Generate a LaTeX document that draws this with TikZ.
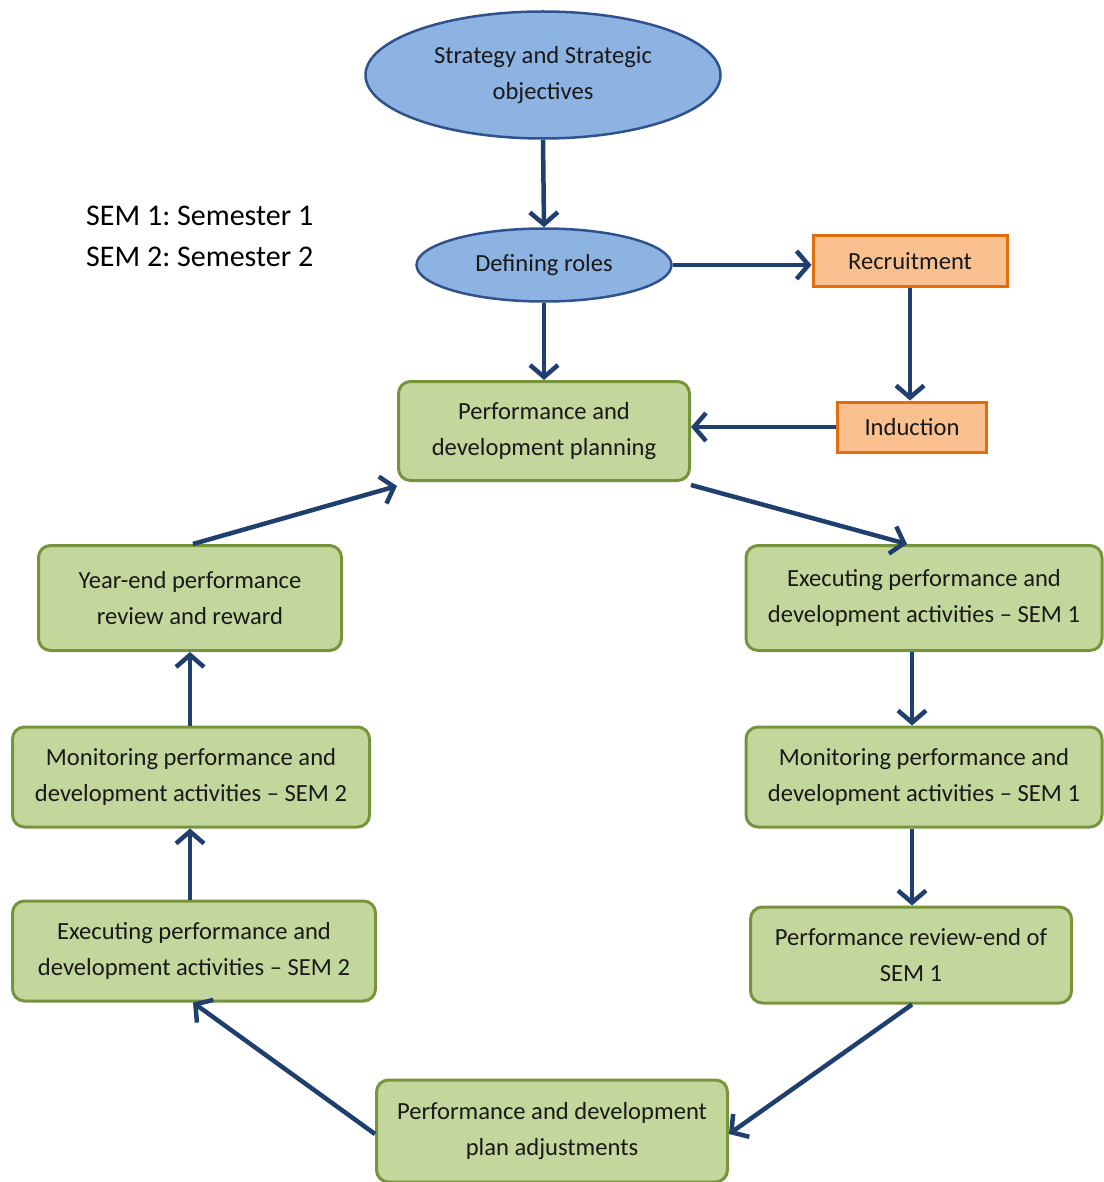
\documentclass[tikz,border=0pt]{standalone}
\usepackage{fontspec}
\setmainfont{Carlito}
\usetikzlibrary{arrows.meta,shapes.geometric}
\definecolor{navy}{HTML}{1F3F6E}
\definecolor{greenfill}{HTML}{C3D69B}
\definecolor{greenline}{HTML}{77933C}
\definecolor{bluefill}{HTML}{8DB3E2}
\definecolor{blueline}{HTML}{2F528F}
\definecolor{orangefill}{HTML}{FAC090}
\definecolor{orangeline}{HTML}{E46C0A}
\tikzset{
  txt/.style={font=\fontsize{24.6}{36}\selectfont, align=center, text=black!90, inner sep=0pt},
  oval/.style={txt, ellipse, draw=blueline, fill=bluefill, line width=2.5pt},
  greenbox/.style={txt, rectangle, rounded corners=12pt, draw=greenline, fill=greenfill, line width=3pt},
  orangebox/.style={txt, rectangle, draw=orangeline, fill=orangefill, line width=3pt},
  flow/.style={draw=navy, line width=4.5pt, -{Straight Barb[length=12pt,width=28pt]}},
}
\frenchspacing
\begin{document}
\begin{tikzpicture}[x=1pt,y=-1pt]
\useasboundingbox (0,0) rectangle (1103,1182);

% legend
\node[anchor=west, font=\fontsize{30}{41}\selectfont, align=left, inner sep=0pt] (legend) at (86,236)
  {SEM 1: Semester 1\\SEM 2: Semester 2};

% top of the chain
\node[oval, minimum width=355pt, minimum height=127pt] (strategy) at (543,75) {Strategy and Strategic\\objectives};
\node[oval, minimum width=255pt, minimum height=73pt] (roles) at (544,265) {Defining roles};
\node[orangebox, minimum width=194pt, minimum height=50pt] (recruit) at (910,261) {Recruitment};
\node[orangebox, minimum width=149pt, minimum height=50pt] (induct) at (912,427) {Induction};

% cycle
\node[greenbox, minimum width=291pt, minimum height=99pt] (plan) at (544,431) {Performance and\\development planning};
\node[greenbox, minimum width=356pt, minimum height=105pt] (exec1) at (924,598) {Executing performance and\\development activities – SEM 1};
\node[greenbox, minimum width=356pt, minimum height=100pt] (mon1) at (924,777) {Monitoring performance and\\development activities – SEM 1};
\node[greenbox, minimum width=321pt, minimum height=96pt] (rev1) at (911,955) {Performance review-end of\\SEM 1};
\node[greenbox, minimum width=351pt, minimum height=102pt] (adjust) at (552,1131) {Performance and development\\plan adjustments};
\node[greenbox, minimum width=363pt, minimum height=100pt] (exec2) at (194,951) {Executing performance and\\development activities – SEM 2};
\node[greenbox, minimum width=357pt, minimum height=100pt] (mon2) at (191,777) {Monitoring performance and\\development activities – SEM 2};
\node[greenbox, minimum width=303pt, minimum height=105pt] (yearend) at (190,598) {Year-end performance\\review and reward};

% connectors
\draw[flow] (strategy.south) -- (roles.north);
\draw[flow] (roles.east) -- (recruit.west |- roles.east);
\draw[flow] (recruit.south) -- (recruit.south |- induct.north);
\draw[flow] (roles.south) -- (plan.north);
\draw[flow] (induct.west) -- (plan.east |- induct.west);
\draw[flow] ([yshift=-3pt]plan.south east) -- ([xshift=-17pt]exec1.north);
\draw[flow] ([xshift=-12pt]exec1.south) -- ([xshift=-12pt]mon1.north);
\draw[flow] ([xshift=-12pt]mon1.south) -- ([xshift=1pt]rev1.north);
\draw[flow] ([xshift=1pt]rev1.south) -- ([yshift=-3pt]adjust.east);
\draw[flow] ([yshift=-3pt]adjust.west) -- ([xshift=-1pt]exec2.south);
\draw[flow] ([xshift=-4pt]exec2.north) -- (mon2.south -| yearend.south);
\draw[flow] (mon2.north -| yearend.south) -- (yearend.south);
\draw[flow] ([xshift=3pt]yearend.north) -- ([yshift=-4pt]plan.south west);
\end{tikzpicture}
\end{document}
